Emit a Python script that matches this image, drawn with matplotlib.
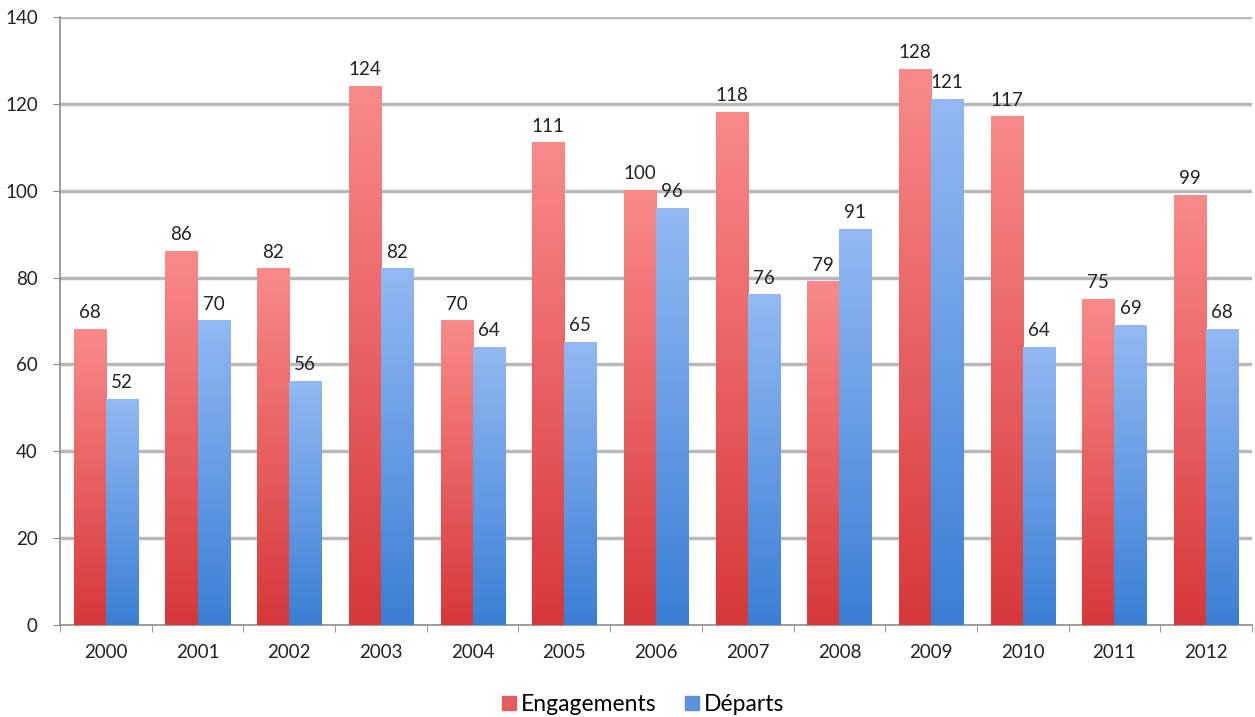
import numpy as np
import matplotlib
matplotlib.use("Agg")
import matplotlib.pyplot as plt
from matplotlib.colors import LinearSegmentedColormap
from matplotlib.lines import Line2D

plt.rcParams['font.family'] = ['Lato', 'DejaVu Sans']

years = ["2000", "2001", "2002", "2003", "2004", "2005", "2006",
         "2007", "2008", "2009", "2010", "2011", "2012"]
engagements = [68, 86, 82, 124, 70, 111, 100, 118, 79, 128, 117, 75, 99]
departs = [52, 70, 56, 82, 64, 65, 96, 76, 91, 121, 64, 69, 68]
series_names = ["Engagements", "Départs"]
yticks = [0, 20, 40, 60, 80, 100, 120, 140]

red_top, red_bot = "#F98A8A", "#D7383A"
blue_top, blue_bot = "#92B9F2", "#3A7FD5"

fig = plt.figure(figsize=(12.55, 7.17), dpi=100)
ax = fig.add_axes([0.0478, 0.1283, 0.9498, 0.848])

x = np.arange(len(years))
w = 0.35
bars_e = ax.bar(x - w / 2, engagements, w, color="#E05050", zorder=2, linewidth=0)
bars_d = ax.bar(x + w / 2, departs, w, color="#5A92E0", zorder=2, linewidth=0)

grad = np.linspace(0, 1, 256).reshape(-1, 1)
cm_r = LinearSegmentedColormap.from_list("r", [red_bot, red_top])
cm_b = LinearSegmentedColormap.from_list("b", [blue_bot, blue_top])
for bars, cm in ((bars_e, cm_r), (bars_d, cm_b)):
    for b in bars:
        x0 = b.get_x()
        x1 = x0 + b.get_width()
        h = b.get_height()
        ax.imshow(grad, extent=[x0, x1, 0, h], origin="lower", cmap=cm,
                  aspect="auto", zorder=3, interpolation="bilinear")

fs = 13.5
for xi, v in zip(x, engagements):
    ax.annotate(str(v), (xi - w / 2, v), xytext=(0, 6), textcoords="offset points",
                ha="center", va="bottom", fontsize=fs, color="#222222", zorder=4)
for xi, v in zip(x, departs):
    ax.annotate(str(v), (xi + w / 2, v), xytext=(0, 6), textcoords="offset points",
                ha="center", va="bottom", fontsize=fs, color="#222222", zorder=4)

ax.set_xlim(-0.5, len(years) - 0.5)
ax.set_ylim(0, 140)
ax.set_yticks(yticks)
ax.set_yticklabels([str(t) for t in yticks], fontsize=fs, color="#222222")
ax.set_xticks(x)
ax.set_xticklabels(years, fontsize=fs, color="#222222")
ax.set_xticks(np.arange(-0.5, len(years)), minor=True)
ax.tick_params(axis="x", which="major", length=0, pad=14)
ax.tick_params(axis="x", which="minor", length=5, color="#888888", direction="out")
ax.tick_params(axis="y", length=5, color="#888888", pad=11)

for t in yticks[1:]:
    ax.axhline(t, color="#B8B8B8", lw=2.5, zorder=1)

for s in ("top", "right"):
    ax.spines[s].set_visible(False)
ax.spines["left"].set_color("#8C8C8C")
ax.spines["bottom"].set_color("#8C8C8C")
ax.spines["left"].set_linewidth(1.2)
ax.spines["bottom"].set_linewidth(1.2)

handles = [Line2D([], [], marker="s", ls="", markersize=10, color="#E45C5C"),
           Line2D([], [], marker="s", ls="", markersize=10, color="#5A92E0")]
fig.legend(handles, series_names, loc="center", bbox_to_anchor=(0.512, 0.018),
           ncol=2, frameon=False, fontsize=16.5, handletextpad=0.15,
           columnspacing=1.2, handlelength=0.7)

fig.savefig("out.png", dpi=100)
